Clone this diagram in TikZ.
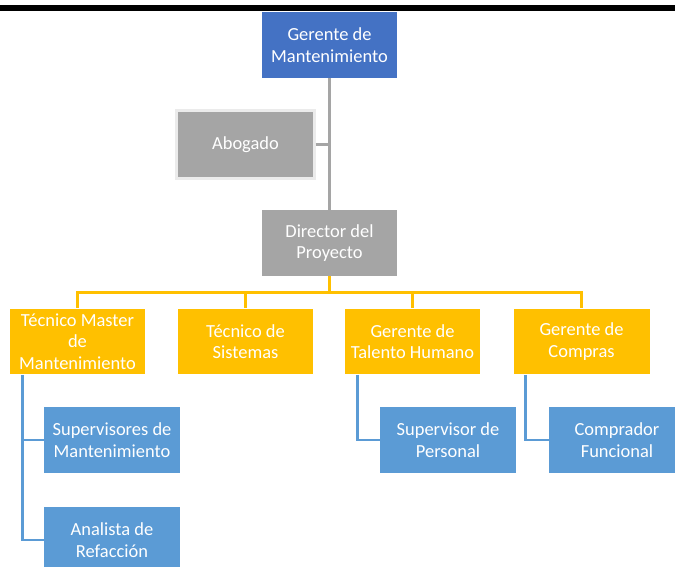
\documentclass[tikz,border=0pt]{standalone}
\usepackage{fontspec}
\setmainfont{Carlito}
\usepackage{tikz}

\definecolor{gmblue}{HTML}{4472C4}
\definecolor{subblue}{HTML}{5B9BD5}
\definecolor{boxgray}{HTML}{A5A5A5}
\definecolor{boxgold}{HTML}{FFC000}

\begin{document}
\begin{tikzpicture}[x=0.02cm, y=0.02cm]
\tikzstyle{every node}+=[inner sep=0pt, text=white, align=center, font=\fontsize{10.5}{12.2}\selectfont]
\tikzstyle{orgbox}=[rectangle, minimum width=2.72cm, minimum height=1.32cm]
\tikzstyle{grayline}=[boxgray, line width=1.5pt]
\tikzstyle{goldline}=[boxgold, line width=1.5pt]
\tikzstyle{blueline}=[subblue, line width=1.5pt]
\useasboundingbox (0,0) rectangle (675,-567);
\clip (0,0) rectangle (675,-567);
\fill [black] (0,-5) rectangle (675,-11);
% top levels
\node [orgbox, fill=gmblue] (gm) at (329.5,-45) {Gerente de\\Mantenimiento};
\node [orgbox, fill=boxgray, draw=black!8, line width=1.5pt, minimum width=2.76cm, minimum height=1.37cm] (abog) at (245.5,-144.5) {Abogado};
\node [orgbox, fill=boxgray] (dir) at (329.5,-243) {Director del\\Proyecto};
% second row
\node [orgbox, fill=boxgold] (tm) at (77.5,-341.5) {T\'ecnico Master\\de\\Mantenimiento};
\node [orgbox, fill=boxgold] (ts) at (245.5,-341.5) {T\'ecnico de\\Sistemas};
\node [orgbox, fill=boxgold] (gth) at (412.5,-341.5) {Gerente de\\Talento Humano};
\node [orgbox, fill=boxgold] (gc) at (581.5,-341.5) {Gerente de\\Compras};
% third row
\node [orgbox, fill=subblue] (sm) at (112,-440) {Supervisores de\\Mantenimiento};
\node [orgbox, fill=subblue] (ar) at (112,-540) {Analista de\\Refacci\'on};
\node [orgbox, fill=subblue] (sp) at (448,-440) {Supervisor de\\Personal};
\node [orgbox, fill=subblue] (cf) at (617,-440) {Comprador\\Funcional};
% connectors
\draw [grayline] (gm.south) -- (dir.north);
\draw [grayline] (abog.east) -- (abog.east -| gm.south);
\coordinate (bus) at (0,-292.5);
\draw [goldline] (dir.south) -- (dir.south |- bus);
\draw [goldline] (tm.north) |- (bus -| gc.north) -- (gc.north);
\foreach \n in {ts,gth}
  \draw [goldline] (\n.north) -- (\n.north |- bus);
\draw [blueline] (tm.south west) ++(13.5,0) coordinate (tmleg) |- (sm.west);
\draw [blueline] (tmleg) |- (ar.west);
\draw [blueline] (gth.south west) ++(13.5,0) |- (sp.west);
\draw [blueline] (gc.south west) ++(12.5,0) |- (cf.west);
\end{tikzpicture}
\end{document}
